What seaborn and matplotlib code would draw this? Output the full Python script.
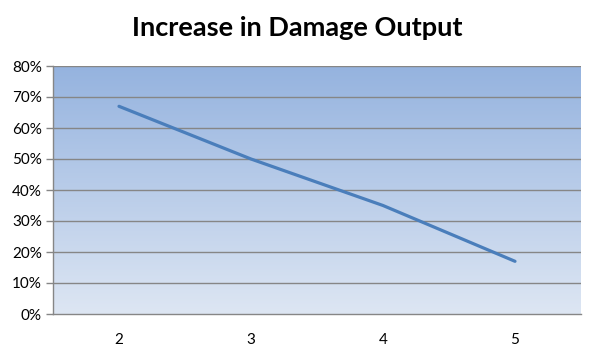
import numpy as np
import pandas as pd
import matplotlib
matplotlib.use("Agg")
import matplotlib.pyplot as plt
import seaborn as sns
from matplotlib.colors import LinearSegmentedColormap

categories = [2, 3, 4, 5]
values = [0.67, 0.50, 0.35, 0.17]
y_ticks = [0, 0.1, 0.2, 0.3, 0.4, 0.5, 0.6, 0.7, 0.8]
y_labels = ["0%", "10%", "20%", "30%", "40%", "50%", "60%", "70%", "80%"]
title = "Increase in Damage Output"

sns.set_style("white")
plt.rcParams['font.family'] = ['Lato', 'DejaVu Sans']

df = pd.DataFrame({"x": categories, "y": values})

fig = plt.figure(figsize=(5.95, 3.54), dpi=100)
ax = fig.add_axes([53/595, 40/354, 528/595, 248/354])

# gradient background
cmap = LinearSegmentedColormap.from_list("g", ["#dde6f3", "#95b3df"])
grad = np.linspace(0, 1, 256).reshape(-1, 1)
ax.imshow(grad, aspect="auto", cmap=cmap, origin="lower",
          extent=[0, 1, 0, 1], transform=ax.transAxes, zorder=0)

for yt in y_ticks[1:]:
    ax.axhline(yt, color="#868686", lw=1.0, zorder=1)

sns.lineplot(data=df, x="x", y="y", ax=ax, color="#4a7ebb", lw=2.3,
             zorder=3, solid_capstyle="round")

ax.set_xlim(1.5, 5.5)
ax.set_ylim(0, 0.8)
ax.set_yticks(y_ticks)
ax.set_yticklabels(y_labels, fontsize=11, color="black")
ax.set_xticks(categories)
ax.set_xticklabels([str(c) for c in categories], fontsize=11, color="black")
ax.set_xticks([1.5, 2.5, 3.5, 4.5, 5.5], minor=True)
ax.tick_params(axis="x", which="major", length=0, pad=14)
ax.tick_params(axis="x", which="minor", length=5, direction="out",
               color="#868686", width=1)
ax.tick_params(axis="y", length=5, direction="out", color="#868686",
               width=1, left=True, pad=3)
ax.set_xlabel("")
ax.set_ylabel("")
for s in ["top", "right"]:
    ax.spines[s].set_visible(False)
for s in ["left", "bottom"]:
    ax.spines[s].set_color("#868686")
    ax.spines[s].set_linewidth(1)

fig.text(0.5, 1 - 28/354, title, ha="center", va="center",
         fontsize=19.5, fontweight="bold", color="black")

fig.savefig("out.png", dpi=100, facecolor="white")
